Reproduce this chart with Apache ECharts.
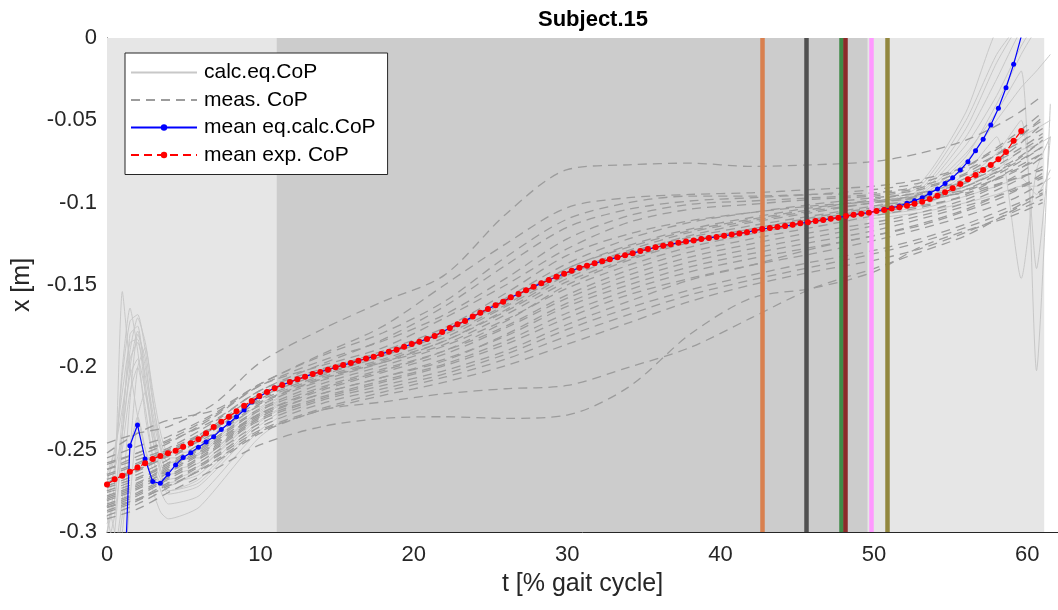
<!DOCTYPE html>
<html style="height: 100%">
<head>
    <meta charset="utf-8">
    <title>Subject.15</title>
    <script src="https://cdn.jsdelivr.net/npm/echarts@6/dist/echarts.min.js"></script>
</head>
<body style="height: 100%; margin: 0">
    <div id="container" style="width: 1058px; height: 610px"></div>
    <script type="text/javascript">
        // sample interval of the mean curves [% gait cycle]
        var DT = 0.4967;

        var meanExp = [
            -0.2711, -0.2680, -0.2658, -0.2634, -0.2609, -0.2583, -0.2557, -0.2538, -0.2522, -0.2506,
            -0.2482, -0.2461, -0.2437, -0.2400, -0.2363, -0.2330, -0.2300, -0.2267, -0.2233, -0.2204,
            -0.2174, -0.2150, -0.2127, -0.2107, -0.2089, -0.2073, -0.2057, -0.2040, -0.2028, -0.2014,
            -0.2000, -0.1986, -0.1974, -0.1960, -0.1947, -0.1935, -0.1919, -0.1905, -0.1893, -0.1875,
            -0.1858, -0.1844, -0.1828, -0.1810, -0.1785, -0.1761, -0.1739, -0.1719, -0.1692, -0.1668,
            -0.1646, -0.1623, -0.1601, -0.1575, -0.1555, -0.1532, -0.1510, -0.1490, -0.1470, -0.1450,
            -0.1431, -0.1413, -0.1395, -0.1383, -0.1368, -0.1356, -0.1344, -0.1332, -0.1320, -0.1307,
            -0.1294, -0.1282, -0.1271, -0.1261, -0.1252, -0.1244, -0.1236, -0.1229, -0.1221, -0.1214,
            -0.1208, -0.1201, -0.1194, -0.1187, -0.1179, -0.1170, -0.1160, -0.1154, -0.1148, -0.1142,
            -0.1134, -0.1125, -0.1119, -0.1111, -0.1105, -0.1097, -0.1091, -0.1081, -0.1073, -0.1067,
            -0.1061, -0.1051, -0.1045, -0.1036, -0.1028, -0.1018, -0.1006, -0.0994, -0.0978, -0.0958,
            -0.0937, -0.0913, -0.0887, -0.0858, -0.0832, -0.0802, -0.0771, -0.0737, -0.0692, -0.0624,
            -0.0565
        ];

        var meanCalc = [
            -0.5200, -0.4500, -0.3670, -0.2476, -0.2350, -0.2557, -0.2694, -0.2704, -0.2650, -0.2593,
            -0.2547, -0.2518, -0.2486, -0.2453, -0.2421, -0.2377, -0.2340, -0.2300, -0.2259, -0.2210,
            -0.2178, -0.2150, -0.2125, -0.2107, -0.2089, -0.2073, -0.2057, -0.2040, -0.2028, -0.2014,
            -0.2000, -0.1986, -0.1974, -0.1960, -0.1947, -0.1935, -0.1919, -0.1905, -0.1893, -0.1875,
            -0.1858, -0.1844, -0.1828, -0.1810, -0.1785, -0.1761, -0.1739, -0.1719, -0.1692, -0.1668,
            -0.1646, -0.1623, -0.1601, -0.1575, -0.1555, -0.1532, -0.1510, -0.1490, -0.1470, -0.1450,
            -0.1431, -0.1413, -0.1395, -0.1383, -0.1368, -0.1356, -0.1344, -0.1332, -0.1320, -0.1307,
            -0.1294, -0.1282, -0.1271, -0.1261, -0.1252, -0.1244, -0.1236, -0.1229, -0.1221, -0.1214,
            -0.1208, -0.1201, -0.1194, -0.1187, -0.1179, -0.1170, -0.1160, -0.1154, -0.1148, -0.1142,
            -0.1134, -0.1125, -0.1119, -0.1111, -0.1105, -0.1097, -0.1091, -0.1081, -0.1073, -0.1067,
            -0.1060, -0.1050, -0.1042, -0.1032, -0.1020, -0.1004, -0.0988, -0.0970, -0.0943, -0.0917,
            -0.0883, -0.0848, -0.0802, -0.0751, -0.0684, -0.0615, -0.0528, -0.0427, -0.0302, -0.0160,
            0.0010
        ];

        // measured CoP trials (dashed), sampled at tMeas
        var tMeas = [0, 2, 4, 7, 10, 14, 18, 22, 26, 30, 34, 38, 42, 46, 50, 53, 56, 59, 61];
        var measTrials = [
            [-0.246, -0.240, -0.236, -0.222, -0.197, -0.177, -0.160, -0.144, -0.107, -0.080, -0.077, -0.076, -0.078, -0.077, -0.075, -0.070, -0.062, -0.048, -0.035],
            [-0.252, -0.240, -0.232, -0.226, -0.210, -0.192, -0.175, -0.150, -0.125, -0.103, -0.097, -0.095, -0.094, -0.092, -0.090, -0.086, -0.078, -0.062, -0.050],
            [-0.258, -0.252, -0.245, -0.232, -0.214, -0.198, -0.183, -0.163, -0.138, -0.115, -0.104, -0.099, -0.097, -0.095, -0.092, -0.088, -0.078, -0.060, -0.045],
            [-0.262, -0.254, -0.246, -0.230, -0.211, -0.199, -0.188, -0.170, -0.150, -0.128, -0.112, -0.104, -0.101, -0.098, -0.096, -0.092, -0.083, -0.070, -0.058],
            [-0.265, -0.258, -0.250, -0.236, -0.218, -0.204, -0.193, -0.178, -0.158, -0.137, -0.122, -0.112, -0.106, -0.101, -0.097, -0.094, -0.087, -0.075, -0.062],
            [-0.268, -0.262, -0.254, -0.240, -0.222, -0.207, -0.196, -0.184, -0.166, -0.146, -0.131, -0.120, -0.112, -0.106, -0.100, -0.097, -0.092, -0.082, -0.070],
            [-0.272, -0.265, -0.256, -0.238, -0.219, -0.205, -0.193, -0.180, -0.162, -0.140, -0.127, -0.117, -0.110, -0.104, -0.098, -0.094, -0.088, -0.072, -0.060],
            [-0.275, -0.268, -0.259, -0.243, -0.225, -0.210, -0.199, -0.187, -0.171, -0.152, -0.138, -0.127, -0.119, -0.112, -0.106, -0.102, -0.096, -0.085, -0.072],
            [-0.278, -0.271, -0.261, -0.245, -0.228, -0.214, -0.203, -0.192, -0.176, -0.158, -0.144, -0.133, -0.125, -0.118, -0.112, -0.106, -0.098, -0.086, -0.080],
            [-0.281, -0.274, -0.264, -0.248, -0.230, -0.216, -0.206, -0.195, -0.181, -0.163, -0.150, -0.139, -0.131, -0.124, -0.117, -0.110, -0.102, -0.093, -0.085],
            [-0.284, -0.277, -0.267, -0.250, -0.232, -0.219, -0.209, -0.199, -0.186, -0.170, -0.156, -0.146, -0.138, -0.131, -0.123, -0.116, -0.108, -0.098, -0.088],
            [-0.287, -0.280, -0.270, -0.254, -0.236, -0.222, -0.213, -0.204, -0.192, -0.177, -0.164, -0.153, -0.144, -0.136, -0.129, -0.122, -0.113, -0.102, -0.094],
            [-0.290, -0.283, -0.273, -0.257, -0.239, -0.226, -0.217, -0.209, -0.199, -0.186, -0.173, -0.160, -0.150, -0.142, -0.135, -0.128, -0.118, -0.106, -0.098],
            [-0.285, -0.280, -0.272, -0.258, -0.240, -0.226, -0.221, -0.216, -0.213, -0.211, -0.200, -0.188, -0.170, -0.152, -0.140, -0.130, -0.120, -0.105, -0.095],
            [-0.292, -0.286, -0.276, -0.262, -0.247, -0.236, -0.231, -0.230, -0.231, -0.229, -0.212, -0.180, -0.158, -0.152, -0.142, -0.127, -0.117, -0.108, -0.100],
            [-0.255, -0.248, -0.242, -0.228, -0.210, -0.193, -0.179, -0.160, -0.133, -0.110, -0.100, -0.096, -0.096, -0.095, -0.094, -0.090, -0.080, -0.066, -0.055],
            [-0.270, -0.263, -0.253, -0.235, -0.216, -0.202, -0.190, -0.176, -0.155, -0.132, -0.119, -0.111, -0.106, -0.102, -0.099, -0.095, -0.085, -0.068, -0.052],
            [-0.276, -0.270, -0.260, -0.244, -0.226, -0.212, -0.201, -0.190, -0.175, -0.156, -0.141, -0.130, -0.122, -0.115, -0.108, -0.103, -0.095, -0.080, -0.070],
            [-0.280, -0.273, -0.262, -0.246, -0.228, -0.213, -0.202, -0.190, -0.172, -0.150, -0.135, -0.124, -0.116, -0.110, -0.104, -0.100, -0.092, -0.078, -0.066],
            [-0.285, -0.278, -0.268, -0.252, -0.234, -0.220, -0.211, -0.202, -0.190, -0.174, -0.160, -0.147, -0.138, -0.128, -0.120, -0.114, -0.105, -0.094, -0.082],
            [-0.262, -0.256, -0.249, -0.233, -0.214, -0.201, -0.191, -0.178, -0.160, -0.140, -0.126, -0.116, -0.109, -0.103, -0.099, -0.096, -0.090, -0.077, -0.066],
            [-0.266, -0.259, -0.251, -0.237, -0.221, -0.207, -0.197, -0.186, -0.168, -0.148, -0.134, -0.123, -0.116, -0.109, -0.103, -0.099, -0.093, -0.081, -0.073],
            [-0.273, -0.267, -0.258, -0.241, -0.223, -0.208, -0.197, -0.184, -0.165, -0.144, -0.130, -0.121, -0.114, -0.108, -0.102, -0.098, -0.090, -0.076, -0.062],
            [-0.279, -0.272, -0.263, -0.247, -0.229, -0.216, -0.206, -0.196, -0.180, -0.161, -0.147, -0.136, -0.128, -0.121, -0.114, -0.108, -0.100, -0.088, -0.078],
            [-0.283, -0.276, -0.266, -0.249, -0.231, -0.218, -0.208, -0.198, -0.184, -0.167, -0.153, -0.142, -0.134, -0.127, -0.120, -0.113, -0.104, -0.092, -0.084],
            [-0.259, -0.252, -0.244, -0.229, -0.211, -0.196, -0.184, -0.168, -0.146, -0.122, -0.108, -0.101, -0.099, -0.097, -0.095, -0.091, -0.082, -0.064, -0.048],
            [-0.288, -0.281, -0.271, -0.255, -0.238, -0.225, -0.215, -0.206, -0.195, -0.181, -0.168, -0.156, -0.147, -0.139, -0.131, -0.124, -0.115, -0.104, -0.092],
            [-0.270, -0.262, -0.252, -0.237, -0.220, -0.206, -0.195, -0.182, -0.163, -0.143, -0.129, -0.118, -0.111, -0.105, -0.100, -0.097, -0.094, -0.086, -0.080]
        ];

        // equation-calculated CoP trials (solid), sampled at tCalc
        var tCalc = [0, 0.5, 1, 1.5, 2, 2.5, 3, 3.5, 4, 6, 10, 15, 20, 30, 40, 48, 53, 56, 58, 59.6, 60.6, 61.5];
        var calcTrials = [
            [-0.300, -0.270, -0.154, -0.200, -0.230, -0.250, -0.262, -0.270, -0.272, -0.262, -0.228, -0.205, -0.188, -0.145, -0.121, -0.108, -0.093, -0.060, -0.025, 0.005, 0.015, 0.020],
            [-0.285, -0.260, -0.200, -0.164, -0.190, -0.230, -0.255, -0.268, -0.275, -0.268, -0.232, -0.207, -0.190, -0.147, -0.123, -0.110, -0.097, -0.072, -0.040, -0.010, 0.005, 0.010],
            [-0.320, -0.300, -0.240, -0.180, -0.175, -0.210, -0.245, -0.262, -0.270, -0.265, -0.230, -0.206, -0.189, -0.146, -0.122, -0.109, -0.100, -0.082, -0.060, -0.146, -0.080, -0.060],
            [-0.270, -0.250, -0.215, -0.185, -0.183, -0.215, -0.240, -0.255, -0.262, -0.258, -0.225, -0.203, -0.187, -0.144, -0.120, -0.107, -0.095, -0.070, -0.045, -0.020, -0.202, -0.040],
            [-0.290, -0.310, -0.280, -0.220, -0.180, -0.195, -0.235, -0.258, -0.268, -0.262, -0.229, -0.205, -0.188, -0.145, -0.121, -0.108, -0.090, -0.050, -0.010, 0.010, 0.020, 0.020],
            [-0.275, -0.262, -0.240, -0.200, -0.178, -0.200, -0.228, -0.248, -0.258, -0.252, -0.222, -0.201, -0.186, -0.144, -0.121, -0.108, -0.098, -0.085, -0.070, -0.050, -0.140, -0.060],
            [-0.300, -0.330, -0.300, -0.250, -0.200, -0.188, -0.220, -0.250, -0.265, -0.260, -0.227, -0.204, -0.187, -0.144, -0.120, -0.107, -0.094, -0.065, -0.035, -0.005, 0.010, 0.020],
            [-0.265, -0.250, -0.225, -0.195, -0.185, -0.205, -0.232, -0.250, -0.258, -0.253, -0.224, -0.203, -0.186, -0.143, -0.120, -0.106, -0.099, -0.088, -0.075, -0.060, -0.055, -0.050],
            [-0.310, -0.290, -0.250, -0.215, -0.200, -0.225, -0.255, -0.275, -0.283, -0.278, -0.238, -0.210, -0.192, -0.148, -0.124, -0.111, -0.102, -0.090, -0.080, -0.068, -0.065, -0.060],
            [-0.295, -0.280, -0.230, -0.190, -0.170, -0.185, -0.215, -0.240, -0.252, -0.250, -0.222, -0.202, -0.186, -0.143, -0.119, -0.106, -0.088, -0.045, 0.005, 0.020, 0.020, 0.020],
            [-0.280, -0.300, -0.330, -0.280, -0.230, -0.215, -0.240, -0.262, -0.277, -0.272, -0.235, -0.208, -0.190, -0.147, -0.123, -0.110, -0.104, -0.096, -0.090, -0.085, -0.095, -0.080],
            [-0.268, -0.255, -0.205, -0.172, -0.168, -0.190, -0.222, -0.245, -0.255, -0.255, -0.226, -0.204, -0.187, -0.145, -0.121, -0.108, -0.096, -0.075, -0.050, -0.030, -0.020, -0.010],
            [-0.330, -0.320, -0.290, -0.250, -0.230, -0.250, -0.275, -0.288, -0.292, -0.285, -0.242, -0.212, -0.193, -0.149, -0.125, -0.112, -0.106, -0.100, -0.095, -0.090, -0.090, -0.085],
            [-0.300, -0.280, -0.240, -0.205, -0.195, -0.215, -0.245, -0.265, -0.275, -0.270, -0.233, -0.207, -0.189, -0.146, -0.122, -0.109, -0.092, -0.055, -0.015, 0.010, 0.020, 0.020]
        ];

        // gait phases (shaded) and events (vertical lines)
        var phases = [
            {from: 0, to: 11.05, color: '#e6e6e6'},
            {from: 11.05, to: 49.6, color: '#cccccc'},
            {from: 49.6, to: 61.1, color: '#e6e6e6'}
        ];
        var events = [
            {t: 42.75, color: '#d9804f'},
            {t: 45.58, color: '#505050'},
            {t: 47.9, color: '#3f8a47'},
            {t: 48.13, color: '#8c2a2a'},
            {t: 49.82, color: '#ff99ff'},
            {t: 50.87, color: '#938840'}
        ];

        var font = '"Liberation Sans", Arial, Helvetica, sans-serif';

        function pairs(ts, vs) {
            return vs.map(function (v, i) { return [ts[i], v]; });
        }

        var series = [];

        // background phases + event lines
        series.push({
            type: 'line',
            data: [],
            z: 1,
            silent: true,
            markArea: {
                silent: true,
                itemStyle: {opacity: 1},
                data: phases.map(function (p) {
                    return [{xAxis: p.from, itemStyle: {color: p.color}}, {xAxis: p.to}];
                })
            },
            markLine: {
                silent: true,
                symbol: 'none',
                label: {show: false},
                data: events.map(function (e) {
                    return {xAxis: e.t, lineStyle: {color: e.color, width: 4.5, type: 'solid'}};
                })
            }
        });

        calcTrials.forEach(function (tr) {
            series.push({
                name: 'calc.eq.CoP',
                type: 'line',
                z: 3,
                showSymbol: false,
                symbol: 'none',
                smooth: 0.2,
                lineStyle: {color: '#c8c8c8', width: 1},
                itemStyle: {color: '#c8c8c8'},
                data: pairs(tCalc, tr)
            });
        });

        measTrials.forEach(function (tr) {
            series.push({
                name: 'meas. CoP',
                type: 'line',
                z: 4,
                showSymbol: false,
                symbol: 'none',
                smooth: 0.3,
                lineStyle: {color: '#9c9c9c', width: 1.3, type: [9, 6]},
                itemStyle: {color: '#9c9c9c'},
                data: pairs(tMeas, tr)
            });
        });

        var tMean = meanExp.map(function (v, i) { return +(i * DT).toFixed(3); });

        series.push({
            name: 'mean eq.calc.CoP',
            type: 'line',
            z: 5,
            symbol: 'circle',
            symbolSize: 5,
            lineStyle: {color: '#0000ff', width: 1.2},
            itemStyle: {color: '#0000ff'},
            data: pairs(tMean, meanCalc)
        });

        series.push({
            name: 'mean exp. CoP',
            type: 'line',
            z: 6,
            symbol: 'circle',
            symbolSize: 6,
            lineStyle: {color: '#ff0000', width: 1.2, type: [8, 5]},
            itemStyle: {color: '#ff0000'},
            data: pairs(tMean, meanExp)
        });

        var dom = document.getElementById('container');
        var myChart = echarts.init(dom);

        var option = {
            backgroundColor: '#ffffff',
            animation: false,
            title: {
                text: 'Subject.15',
                left: 588,
                top: 4,
                textAlign: 'center',
                textStyle: {fontFamily: font, fontSize: 22, fontWeight: 'bold', color: '#000'}
            },
            legend: {
                orient: 'vertical',
                left: 125,
                top: 53,
                data: [
                    {name: 'calc.eq.CoP', itemStyle: {opacity: 0}},
                    {name: 'meas. CoP', itemStyle: {opacity: 0}},
                    {name: 'mean eq.calc.CoP'},
                    {name: 'mean exp. CoP'}
                ],
                backgroundColor: '#ffffff',
                borderColor: '#262626',
                borderWidth: 1,
                borderRadius: 0,
                padding: [9, 12, 9, 5],
                itemWidth: 66,
                itemHeight: 8,
                itemGap: 6.5,
                textStyle: {fontFamily: font, fontSize: 21, color: '#000', padding: [0, 0, 0, 2]}
            },
            grid: {left: 107, right: 0, top: 38, bottom: 78},
            xAxis: {
                type: 'value',
                min: 0,
                max: 62,
                interval: 10,
                name: 't [% gait cycle]',
                nameLocation: 'middle',
                nameGap: 40,
                nameTextStyle: {fontFamily: font, fontSize: 25, color: '#262626'},
                axisLine: {onZero: false, lineStyle: {color: '#262626', width: 1}},
                axisTick: {inside: true, length: 9, lineStyle: {color: '#262626'}},
                axisLabel: {fontFamily: font, fontSize: 22, color: '#262626', margin: 12, showMaxLabel: false},
                splitLine: {show: true, lineStyle: {color: 'rgba(255,255,255,0.55)', type: 'dotted', width: 1}}
            },
            yAxis: {
                type: 'value',
                min: -0.3,
                max: 0,
                interval: 0.05,
                name: 'x [m]',
                nameLocation: 'middle',
                nameGap: 72,
                nameRotate: 90,
                nameTextStyle: {fontFamily: font, fontSize: 25, color: '#262626'},
                axisLine: {onZero: false, lineStyle: {color: '#262626', width: 1}},
                axisTick: {inside: true, length: 9, lineStyle: {color: '#262626'}},
                axisLabel: {
                    fontFamily: font, fontSize: 22, color: '#262626', margin: 10,
                    formatter: function (v) { return String(parseFloat(v.toFixed(2))); }
                },
                splitLine: {show: true, lineStyle: {color: 'rgba(255,255,255,0.55)', type: 'dotted', width: 1}}
            },
            series: series
        };

        myChart.setOption(option, true);
    </script>
</body>
</html>
